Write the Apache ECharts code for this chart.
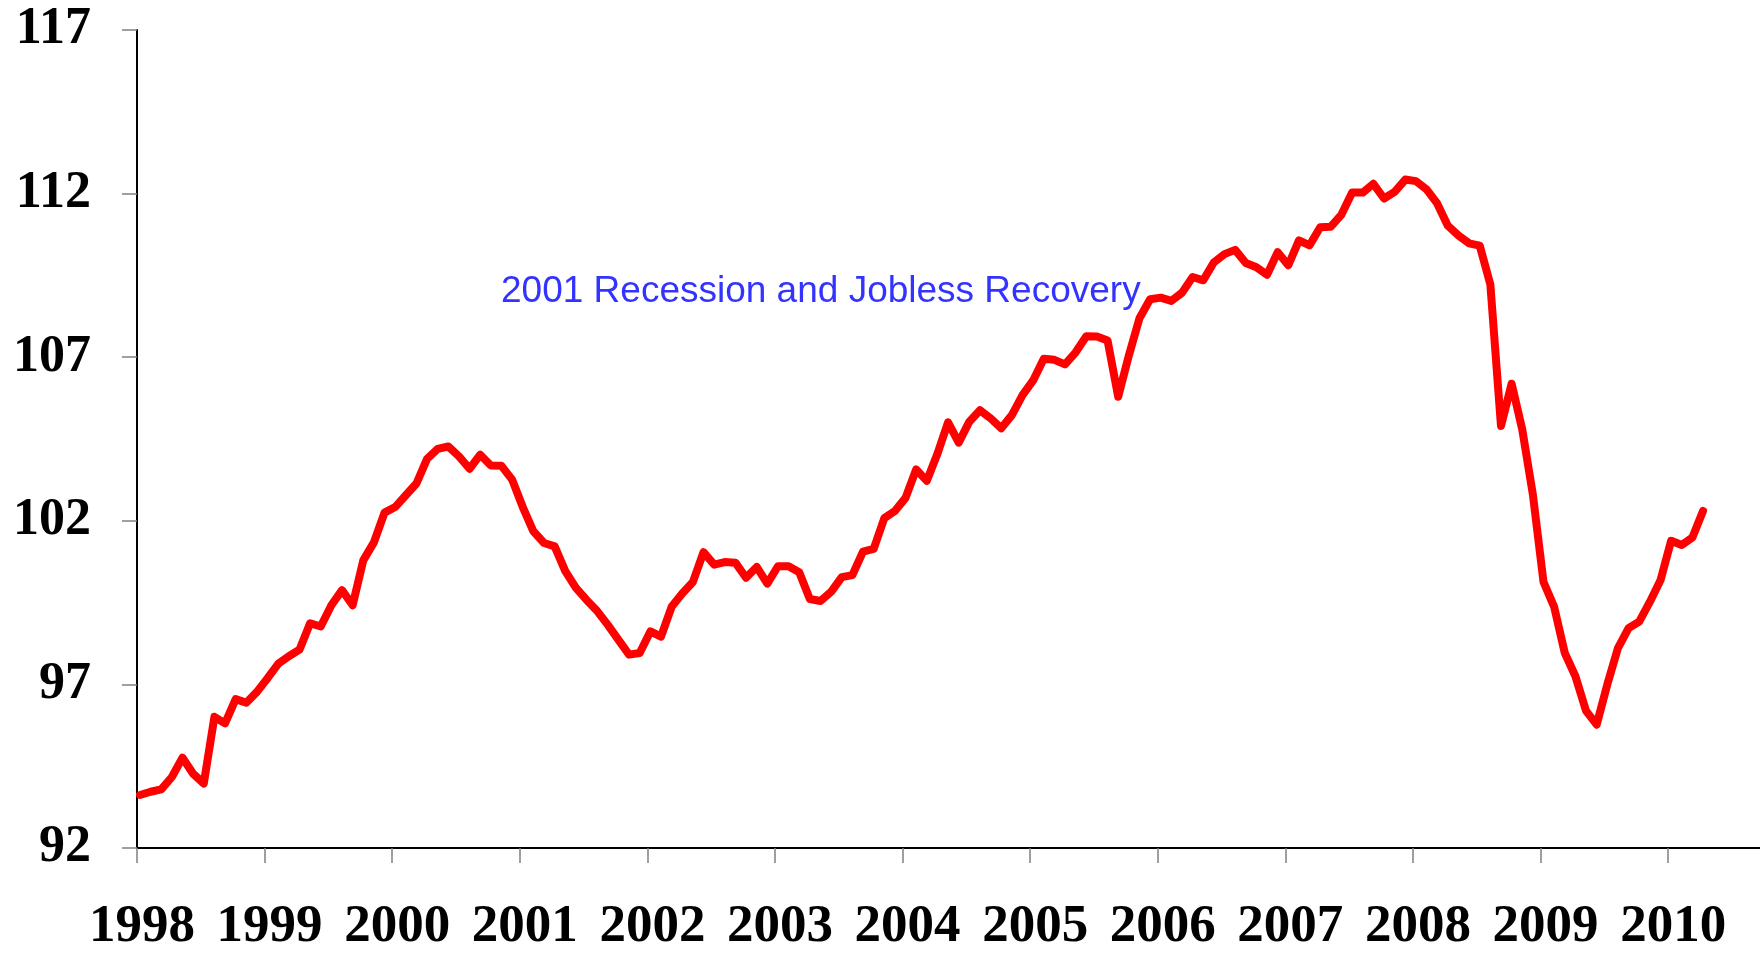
<!DOCTYPE html>
<html>
<head>
<meta charset="utf-8">
<script src="https://cdn.jsdelivr.net/npm/echarts@6/dist/echarts.min.js"></script>
<style>
  html, body { margin: 0; padding: 0; background: #fff; }
</style>
</head>
<body>
<!-- chart container, full window -->
<div id="trendChart" style="width: 1760px; height: 954px"></div>

<script>
// monthly index, Jan 1998 .. Apr 2010
const startYear = 1998
const indexValues = [
  93.62, 93.72, 93.79, 94.17, 94.76, 94.27, 93.97, 96.01, 95.81, 96.55, 96.44, 96.77,
  97.19, 97.63, 97.86, 98.06, 98.87, 98.77, 99.42, 99.88, 99.42, 100.79, 101.34, 102.25,
  102.42, 102.78, 103.14, 103.89, 104.20, 104.27, 103.97, 103.59, 104.02, 103.69, 103.68, 103.26,
  102.42, 101.68, 101.32, 101.22, 100.46, 99.95, 99.58, 99.24, 98.82, 98.36, 97.91, 97.96,
  98.62, 98.46, 99.37, 99.78, 100.13, 101.04, 100.66, 100.74, 100.72, 100.26, 100.59, 100.08,
  100.61, 100.61, 100.43, 99.61, 99.55, 99.83, 100.28, 100.34, 101.06, 101.14, 102.08, 102.30,
  102.70, 103.57, 103.22, 104.05, 105.01, 104.39, 105.03, 105.38, 105.13, 104.83, 105.23, 105.84,
  106.29, 106.95, 106.92, 106.78, 107.15, 107.64, 107.63, 107.51, 105.79, 107.05, 108.19, 108.77,
  108.82, 108.72, 108.97, 109.45, 109.35, 109.90, 110.15, 110.28, 109.88, 109.75, 109.52, 110.21,
  109.81, 110.57, 110.42, 110.97, 110.99, 111.36, 112.03, 112.03, 112.30, 111.85, 112.05, 112.43,
  112.38, 112.13, 111.70, 111.02, 110.72, 110.48, 110.41, 109.22, 104.90, 106.19, 104.79, 102.80,
  100.13, 99.37, 97.96, 97.25, 96.19, 95.77, 97.00, 98.11, 98.72, 98.92, 99.52, 100.18,
  101.39, 101.26, 101.49, 102.30
]
const yearLabels = ['1998', '1999', '2000', '2001', '2002', '2003', '2004',
  '2005', '2006', '2007', '2008', '2009', '2010']
const yTicks = [92, 97, 102, 107, 112, 117]
const noteText = '2001 Recession and Jobless Recovery'

// month i -> position on the year axis (points sit a little after the tick)
const seriesData = indexValues.map((v, i) => [startYear + (i + 0.28) / 12, v])

const chart = echarts.init(document.getElementById('trendChart'), null, { renderer: 'canvas' })

const labelFont = { fontFamily: 'Liberation Serif', fontWeight: 'bold', color: '#000' }

const option = {
  animation: false,
  grid: { left: 137, right: 0, top: 30, bottom: 99, containLabel: false },
  xAxis: {
    type: 'value',
    min: 1998,
    max: 2010.72, // axis runs on to the right edge
    interval: 1,
    axisLine: { show: true, lineStyle: { color: '#000', width: 2 } },
    axisTick: { show: true, inside: false, length: 15, lineStyle: { color: '#808080', width: 1.5 } },
    axisLabel: {
      ...labelFont,
      fontSize: 53,
      margin: 53,
      padding: [0, 0, 0, 10],
      showMaxLabel: false,
      formatter: v => (Number.isInteger(v) ? yearLabels[v - startYear] || '' : '')
    },
    splitLine: { show: false }
  },
  yAxis: {
    type: 'value',
    min: yTicks[0],
    max: yTicks[yTicks.length - 1],
    interval: 5,
    axisLine: { show: true, lineStyle: { color: '#000', width: 2 } },
    axisTick: { show: true, inside: false, length: 15, lineStyle: { color: '#808080', width: 1.5 } },
    axisLabel: { ...labelFont, fontSize: 52, margin: 46 },
    splitLine: { show: false }
  },
  series: [
    {
      type: 'line',
      data: seriesData,
      showSymbol: false,
      symbol: 'none',
      smooth: false,
      lineStyle: { color: '#ff0000', width: 8, cap: 'round', join: 'round' }
    }
  ],
  graphic: [
    {
      type: 'text',
      left: 501,
      top: 273,
      style: {
        text: noteText,
        fill: '#3333ff',
        font: '37px "Liberation Sans", Arial, sans-serif'
      }
    }
  ]
}

chart.setOption(option)
</script>
</body>
</html>
